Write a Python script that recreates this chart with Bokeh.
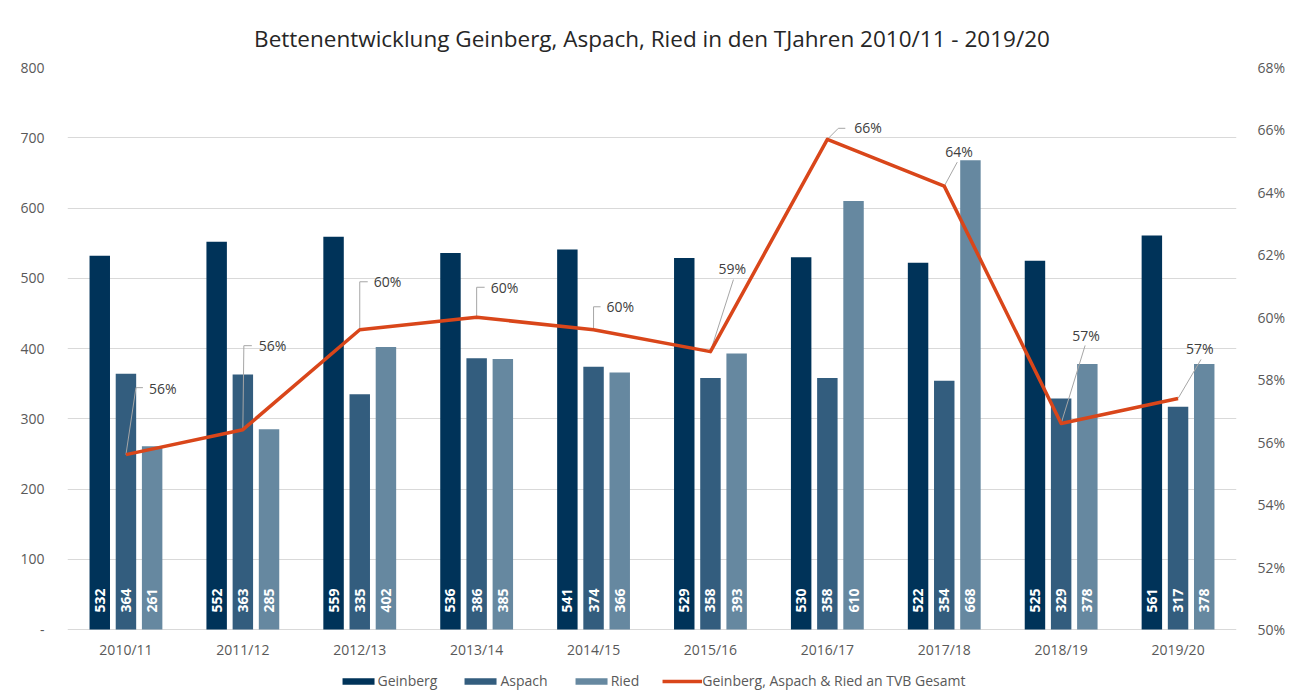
import math
from bokeh.plotting import figure
from bokeh.models import (FactorRange, Range1d, LinearAxis, FixedTicker,
                          NumeralTickFormatter, ColumnDataSource, Legend, LegendItem)
from bokeh.transform import dodge
from bokeh.core.properties import value
from bokeh.embed import file_html
from bokeh.resources import INLINE

# ---------------- data ----------------
chart_title = "Bettenentwicklung Geinberg, Aspach, Ried in den TJahren 2010/11 - 2019/20"
years = ["2010/11", "2011/12", "2012/13", "2013/14", "2014/15",
         "2015/16", "2016/17", "2017/18", "2018/19", "2019/20"]
geinberg = [532, 552, 559, 536, 541, 529, 530, 522, 525, 561]
aspach = [364, 363, 335, 386, 374, 358, 358, 354, 329, 317]
ried = [261, 285, 402, 385, 366, 393, 610, 668, 378, 378]
share = [0.556, 0.564, 0.596, 0.600, 0.596, 0.589, 0.657, 0.642, 0.566, 0.574]
share_labels = ["56%", "56%", "60%", "60%", "60%", "59%", "66%", "64%", "57%", "57%"]
series_names = ["Geinberg", "Aspach", "Ried", "Geinberg, Aspach & Ried an TVB Gesamt"]
left_ticks = [0, 100, 200, 300, 400, 500, 600, 700, 800]
right_ticks = [0.50, 0.52, 0.54, 0.56, 0.58, 0.60, 0.62, 0.64, 0.66, 0.68]

# ---------------- style / layout ----------------
FONT = "Open Sans"
C_GEIN, C_ASP, C_RIED, C_LINE = "#003359", "#335d7e", "#6688a0", "#D9461A"
TXT = "#595959"
GRID = "#d9d9d9"
W, H = 1288, 695
BL, BR, BT, BB = 67, 51, 67, 2
PLOT_H = 562          # pixel height of the value area (0..800)
EXTRA = H - BT - BB - PLOT_H   # room below the zero line for labels + legend
FW = W - BL - BR
OFF, BW = 0.224, 0.175

L_MIN, L_MAX = 0, 800
R_MIN, R_MAX = 0.50, 0.68
l_ext = (L_MAX - L_MIN) * EXTRA / PLOT_H
r_ext = (R_MAX - R_MIN) * EXTRA / PLOT_H

# label offsets (screen px, relative to the line point) and leader elbows
lab_dx = [23, 16, 14, 14, 13, 8, 27, 1, 11, 8]
lab_dy = [-66, -84, -48, -30, -23, -83, -12, -35, -88, -50]
lead_ex = [10, 1, 0, 0, 0, 23, 11, 13, 24, 23]
lead_ey = [-67, -84, -48, -30, -23, -72, -11, -24, -78, -39]
lead_hx = [17, 9, 8, 8, 7, 23, 18, 13, 24, 23]

src = ColumnDataSource(dict(
    year=years, geinberg=geinberg, aspach=aspach, ried=ried, share=share,
    g_lbl=[str(v) for v in geinberg], a_lbl=[str(v) for v in aspach],
    r_lbl=[str(v) for v in ried], s_lbl=share_labels,
    dx=lab_dx, dy=lab_dy, zero=[0] * len(years),
))

p = figure(x_range=FactorRange(*years), y_range=Range1d(L_MIN - l_ext, L_MAX),
           width=W, height=H, output_backend="svg", toolbar_location=None,
           min_border_left=BL, min_border_right=BR, min_border_top=BT,
           min_border_bottom=BB, title=chart_title)
p.extra_y_ranges = {"pct": Range1d(R_MIN - r_ext, R_MAX)}
p.outline_line_color = None
p.background_fill_color = "white"
p.border_fill_color = "white"

p.title.align = "center"
p.title.text_font = FONT
p.title.text_font_size = "22.5px"
p.title.text_font_style = "normal"
p.title.text_color = "#262626"
p.title.standoff = 28

# bars
rg = p.vbar(x=dodge("year", -OFF, range=p.x_range), top="geinberg", width=BW,
            source=src, fill_color=C_GEIN, line_color=None)
ra = p.vbar(x=dodge("year", 0, range=p.x_range), top="aspach", width=BW,
            source=src, fill_color=C_ASP, line_color=None)
rr = p.vbar(x=dodge("year", OFF, range=p.x_range), top="ried", width=BW,
            source=src, fill_color=C_RIED, line_color=None)

for off, col in [(-OFF, "g_lbl"), (0, "a_lbl"), (OFF, "r_lbl")]:
    p.text(x=dodge("year", off, range=p.x_range), y="zero", text=col, source=src,
           angle=math.pi / 2, text_align="left", text_baseline="middle",
           y_offset=-17, text_color="white", text_font=value(FONT),
           text_font_size="14px", text_font_style="bold")

# category labels under the zero line
p.text(x="year", y="zero", text="year", source=src, text_align="center",
       text_baseline="top", y_offset=10, text_color=TXT, text_font=value(FONT),
       text_font_size="14px")

# leader lines (pixel offsets converted to data units)
px_x = 10.0 / FW
px_y = (R_MAX - R_MIN) / PLOT_H
xs, ys = [], []
for i, s in enumerate(share):
    cx = i + 0.5
    xs.append([cx, cx + lead_ex[i] * px_x, cx + lead_hx[i] * px_x])
    ys.append([s, s - lead_ey[i] * px_y, s - lead_ey[i] * px_y])
p.multi_line(xs=xs, ys=ys, y_range_name="pct", line_color="#a6a6a6", line_width=1)

# line
rl = p.line(x="year", y="share", source=src, y_range_name="pct",
            line_color=C_LINE, line_width=3.5, line_join="round")

p.text(x="year", y="share", text="s_lbl", source=src, y_range_name="pct",
       x_offset="dx", y_offset="dy", text_align="left", text_baseline="middle",
       text_color="#404040", text_font=value(FONT), text_font_size="14px")

# axes
p.yaxis.ticker = FixedTicker(ticks=left_ticks)
p.yaxis.major_label_overrides = {0: "-"}
ax_r = LinearAxis(y_range_name="pct", ticker=FixedTicker(ticks=right_ticks),
                  formatter=NumeralTickFormatter(format="0%"))
p.add_layout(ax_r, "right")
for ax in [p.yaxis[0], ax_r]:
    ax.axis_line_color = None
    ax.major_tick_line_color = None
    ax.minor_tick_line_color = None
    ax.major_label_text_font = FONT
    ax.major_label_text_font_size = "14px"
    ax.major_label_text_color = TXT
p.yaxis[0].major_label_standoff = 17
ax_r.major_label_standoff = 15

p.xaxis.visible = False
p.xgrid.visible = False
p.ygrid.ticker = FixedTicker(ticks=left_ticks)
p.ygrid.grid_line_color = GRID

legend = Legend(items=[LegendItem(label=series_names[0], renderers=[rg]),
                       LegendItem(label=series_names[1], renderers=[ra]),
                       LegendItem(label=series_names[2], renderers=[rr]),
                       LegendItem(label=series_names[3], renderers=[rl])],
                orientation="horizontal", location="bottom_center")
legend.border_line_color = None
legend.background_fill_alpha = 0
legend.label_text_font = FONT
legend.label_text_font_size = "14px"
legend.label_text_color = TXT
legend.glyph_width = 40
legend.glyph_height = 8
legend.spacing = 23
legend.label_standoff = 0
legend.padding = 0
legend.margin = 3
p.add_layout(legend, "center")

open("out.html", "w").write(file_html(p, INLINE))
